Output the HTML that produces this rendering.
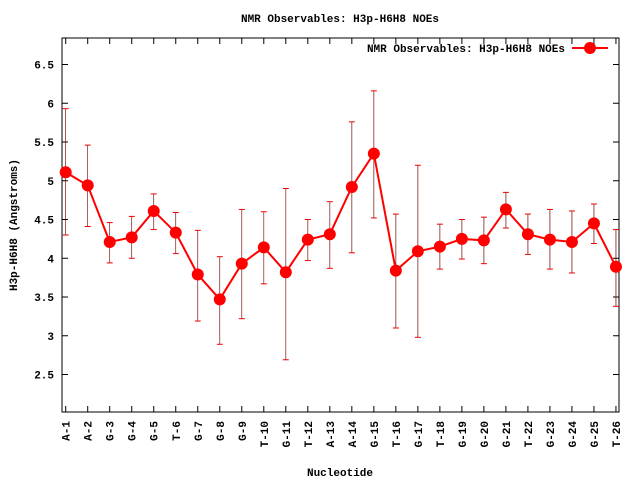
<!DOCTYPE html>
<html><head><meta charset="utf-8"><style>
body{margin:0;background:#fff}
svg text{font-family:"Liberation Mono","DejaVu Sans Mono",monospace;font-weight:bold;font-size:11px;fill:#000}
</style></head><body>
<svg id="s" width="640" height="480" xmlns="http://www.w3.org/2000/svg"></svg>
<script>
const s=document.getElementById('s');
const L=62,R=619,T=38,B=412;
const Y=v=>374.5-(v-2.5)*77.5;
const X=i=>65.7+i*22.01;
const names=["A-1","A-2","G-3","G-4","G-5","T-6","G-7","G-8","G-9","T-10","G-11","T-12","A-13","A-14","G-15","T-16","G-17","T-18","G-19","G-20","G-21","T-22","G-23","G-24","G-25","T-26"];
const d=[[5.11,4.3,5.93],[4.94,4.41,5.46],[4.21,3.94,4.46],[4.27,4.0,4.54],[4.61,4.37,4.83],[4.33,4.06,4.59],[3.79,3.19,4.36],[3.47,2.89,4.02],[3.93,3.22,4.63],[4.14,3.67,4.6],[3.82,2.69,4.9],[4.24,3.97,4.5],[4.31,3.87,4.73],[4.92,4.07,5.76],[5.35,4.52,6.16],[3.84,3.1,4.57],[4.09,2.98,5.2],[4.15,3.86,4.44],[4.25,3.99,4.5],[4.23,3.93,4.53],[4.63,4.39,4.85],[4.31,4.05,4.57],[4.24,3.86,4.63],[4.21,3.81,4.61],[4.45,4.19,4.7],[3.89,3.38,4.37]];
let h='';
h+=`<rect x="${L}" y="${T}" width="${R-L}" height="${B-T}" fill="none" stroke="#000" stroke-width="1"/>`;
for(let v=2.5;v<=6.51;v+=0.5){const y=Y(v);h+=`<line x1="${L}" y1="${y}" x2="${L+6}" y2="${y}" stroke="#000"/><line x1="${R}" y1="${y}" x2="${R-6}" y2="${y}" stroke="#000"/><text x="${L-8}" y="${y+4}" text-anchor="end">${v}</text>`;}
names.forEach((n,i)=>{const x=X(i);h+=`<line x1="${x}" y1="${B}" x2="${x}" y2="${B-6}" stroke="#000"/><line x1="${x}" y1="${T}" x2="${x}" y2="${T+6}" stroke="#000"/><text transform="translate(${x+4},${421}) rotate(-90)" text-anchor="end">${n}</text>`;});
d.forEach((p,i)=>{const x=X(i);h+=`<line x1="${x}" y1="${Y(p[1])}" x2="${x}" y2="${Y(p[2])}" stroke="#000" stroke-width="0.6"/><line x1="${x-3}" y1="${Y(p[1])}" x2="${x+3}" y2="${Y(p[1])}" stroke="#e00"/><line x1="${x-3}" y1="${Y(p[2])}" x2="${x+3}" y2="${Y(p[2])}" stroke="#e00"/><line x1="${x}" y1="${Y(p[1])}" x2="${x}" y2="${Y(p[2])}" stroke="#e00" stroke-width="0.6" opacity="0.5"/>`;});
h+=`<polyline fill="none" stroke="#f00" stroke-width="2" points="${d.map((p,i)=>X(i)+','+Y(p[0])).join(' ')}"/>`;
d.forEach((p,i)=>{h+=`<circle cx="${X(i)}" cy="${Y(p[0])}" r="6" fill="#f00"/>`;});
h+=`<text x="565" y="52" text-anchor="end">NMR Observables: H3p-H6H8 NOEs</text><line x1="572" y1="48" x2="608" y2="48" stroke="#f00" stroke-width="2"/><circle cx="590" cy="48" r="6" fill="#f00"/>`;
h+=`<text x="340" y="22" text-anchor="middle">NMR Observables: H3p-H6H8 NOEs</text>`;
h+=`<text x="340" y="476" text-anchor="middle">Nucleotide</text>`;
h+=`<text transform="translate(17,225) rotate(-90)" text-anchor="middle">H3p-H6H8 (Angstroms)</text>`;
s.innerHTML=h;
</script>
</body></html>
